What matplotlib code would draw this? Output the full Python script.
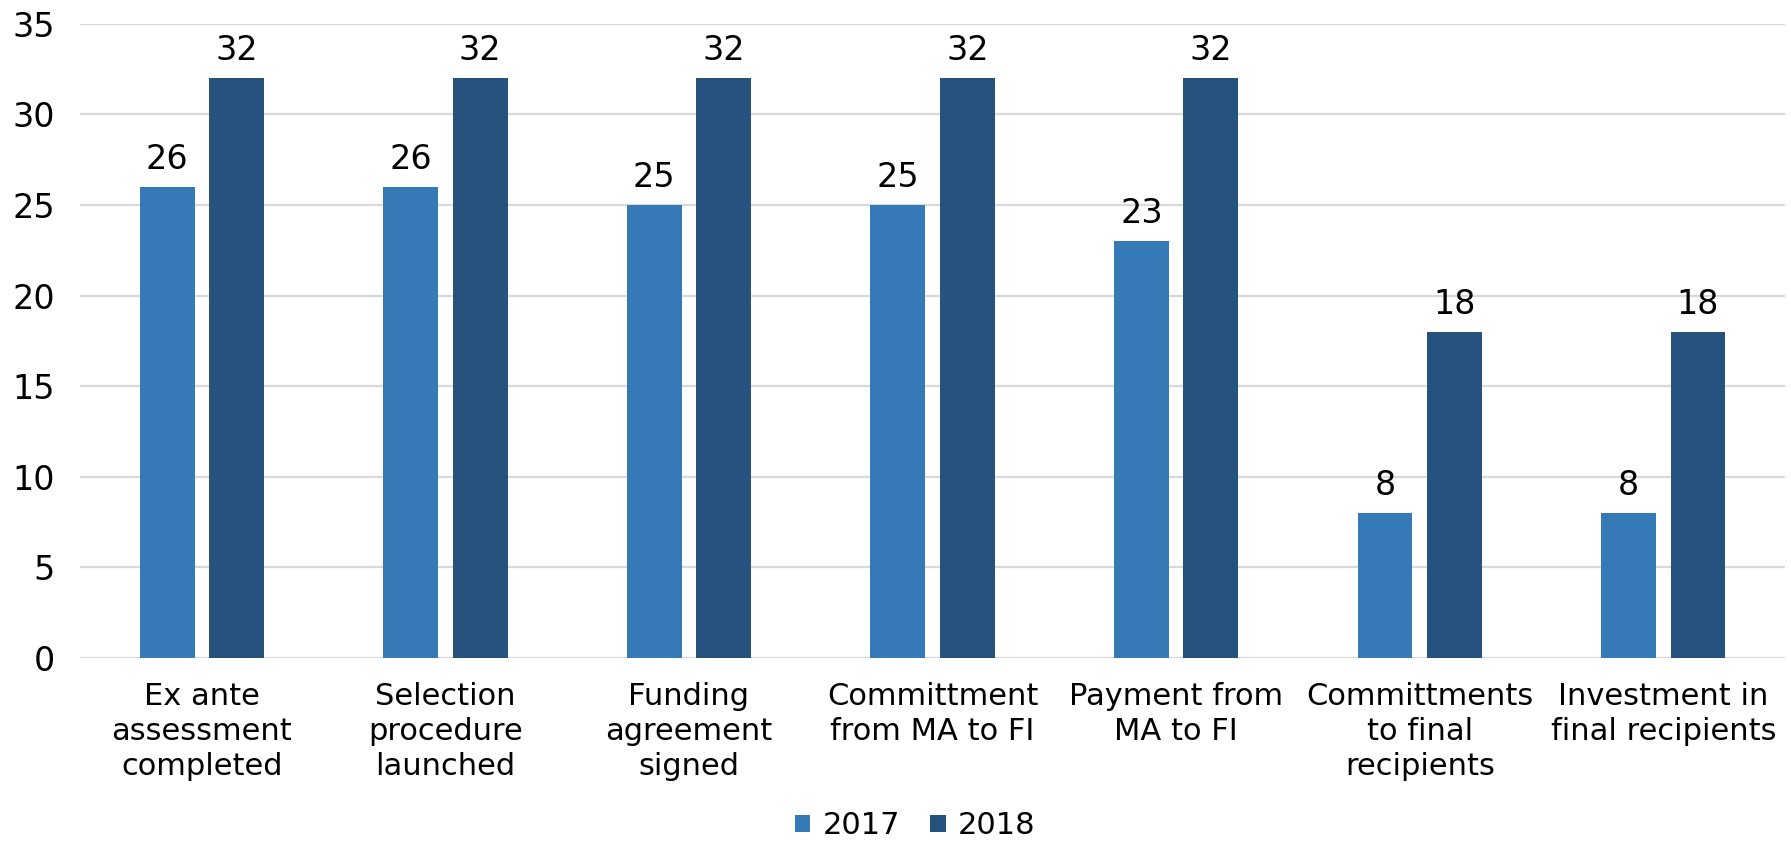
import numpy as np
import matplotlib
matplotlib.use("Agg")
import matplotlib.pyplot as plt

categories = [
    "Ex ante\nassessment\ncompleted",
    "Selection\nprocedure\nlaunched",
    "Funding\nagreement\nsigned",
    "Committment\nfrom MA to FI",
    "Payment from\nMA to FI",
    "Committments\nto final\nrecipients",
    "Investment in\nfinal recipients",
]
values_2017 = [26, 26, 25, 25, 23, 8, 8]
values_2018 = [32, 32, 32, 32, 32, 18, 18]
yticks = [0, 5, 10, 15, 20, 25, 30, 35]

color_2017 = "#3679B7"
color_2018 = "#26537E"

plt.rcParams['font.family'] = ['DejaVu Sans']
fig = plt.figure(figsize=(17.91, 8.41), dpi=100)
ax = fig.add_axes([0.0447, 0.2176, 0.952, 0.754])

x = np.arange(len(categories))
width = 0.225
offset = 0.1425

bars_a = ax.bar(x - offset, values_2017, width, color=color_2017, label="2017", zorder=3)
bars_b = ax.bar(x + offset, values_2018, width, color=color_2018, label="2018", zorder=3)

for bars in (bars_a, bars_b):
    for b in bars:
        ax.annotate(f"{b.get_height():g}", (b.get_x() + b.get_width() / 2, b.get_height()),
                    xytext=(0, 8), textcoords="offset points", ha="center", va="bottom",
                    fontsize=24, color="black")

ax.set_xlim(-0.5, len(categories) - 0.5)
ax.set_ylim(0, 35)
ax.set_yticks(yticks)
ax.set_xticks(x)
ax.set_xticklabels(categories, fontsize=22, linespacing=1.26)
ax.tick_params(axis="y", labelsize=24, length=0, pad=18)
ax.tick_params(axis="x", length=0, pad=17)
ax.grid(axis="y", color="#D9D9D9", linewidth=1.6, zorder=0)
for s in ax.spines.values():
    s.set_visible(False)

fig.legend(handles=[bars_a, bars_b], labels=["2017", "2018"], loc="center",
           bbox_to_anchor=(0.511, 0.018), ncol=2, frameon=False, fontsize=22,
           handlelength=0.5, handleheight=0.5, handletextpad=0.4, columnspacing=1.0)

fig.savefig("out.png", dpi=100)
